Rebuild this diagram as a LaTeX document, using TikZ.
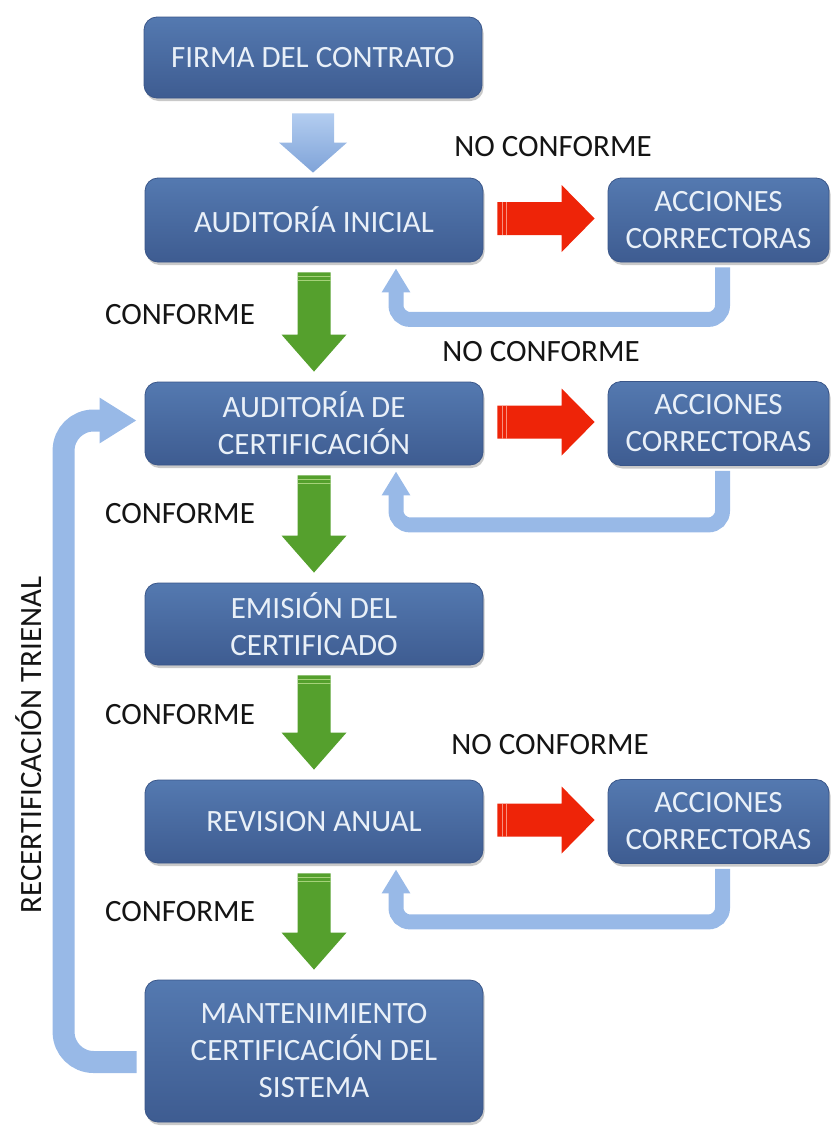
\documentclass[tikz,border=0pt]{standalone}
\usepackage{fontspec}
\setmainfont{Carlito}
\usetikzlibrary{calc,shadows,arrows.meta}

\definecolor{boxtop}{HTML}{5479B0}
\definecolor{boxbot}{HTML}{3E5C91}
\definecolor{boxline}{HTML}{3A5689}
\definecolor{boxtext}{HTML}{E9F0F8}
\definecolor{loopblue}{HTML}{98B9E7}
\definecolor{loopdark}{HTML}{7FA3D8}
\definecolor{looplight}{HTML}{B3CDF0}
\definecolor{okgreen}{HTML}{55A02D}
\definecolor{okstripe}{HTML}{A6D27A}
\definecolor{ncred}{HTML}{EE2408}
\definecolor{ncstripe}{HTML}{F7907E}

% block arrow pointing down: start, tip, shaft half width, head half width, head length, options
\newcommand\blockdown[6]{%
  \path[#6] let \p1=(#1), \p2=(#2) in
    (\x1-#3,\y1) -- (\x1+#3,\y1) -- (\x1+#3,\y2+#5) -- (\x1+#4,\y2+#5) -- (\x1,\y2)
    -- (\x1-#4,\y2+#5) -- (\x1-#3,\y2+#5) -- cycle;}
% block arrow pointing right
\newcommand\blockright[6]{%
  \path[#6] let \p1=(#1), \p2=(#2) in
    (\x1,\y1+#3) -- (\x2-#5,\y1+#3) -- (\x2-#5,\y1+#4) -- (\x2,\y1) -- (\x2-#5,\y1-#4)
    -- (\x2-#5,\y1-#3) -- (\x1,\y1-#3) -- cycle;}

\tikzset{
  stage/.style={rounded corners=13pt, top color=boxtop, bottom color=boxbot,
    draw=boxline, line width=0.8pt, text=boxtext,
    font=\fontsize{31}{37}\selectfont, align=center, minimum width=338pt, inner sep=0pt,
    drop shadow={shadow xshift=1.5pt, shadow yshift=-3pt, opacity=0.3, fill=black!70}},
  fix/.style={stage, minimum width=221pt, minimum height=84pt},
  lbl/.style={font=\fontsize{31}{37}\selectfont, text=black!92, inner sep=0pt},
  backline/.style={draw=loopblue, line width=15pt, rounded corners=14pt,
    -{Triangle[width=27pt,length=24pt]}},
  bigloop/.style={draw=loopblue, line width=22pt, rounded corners=30pt,
    -{Triangle[width=43pt,length=37pt]}},
  greenfill/.style={fill=okgreen},
  redfill/.style={fill=ncred},
  bluefill/.style={top color=looplight, bottom color=loopdark},
}

\begin{document}
\begin{tikzpicture}[x=1pt,y=-1pt]
\path[use as bounding box] (0,0) rectangle (831,1127);

% main stages
\node[stage, minimum height=81pt] (firma) at (313,57.5) {FIRMA DEL CONTRATO};
\node[stage, minimum height=84pt] (inicial) at (314,220) {AUDITORÍA INICIAL};
\node[stage, minimum height=83pt] (certif) at (314,423.5) {AUDITORÍA DE\\CERTIFICACIÓN};
\node[stage, minimum height=82pt] (emision) at (314,624) {EMISIÓN DEL\\CERTIFICADO};
\node[stage, minimum height=83pt] (revision) at (314,821.5) {REVISION ANUAL};
\node[stage, minimum height=142pt] (mant) at (314,1051) {MANTENIMIENTO\\CERTIFICACIÓN DEL\\SISTEMA};

% corrective actions
\node[fix] (acc1) at (718.5,220) {ACCIONES\\CORRECTORAS};
\node[fix] (acc2) at (718.5,423.5) {ACCIONES\\CORRECTORAS};
\node[fix] (acc3) at (718.5,821.5) {ACCIONES\\CORRECTORAS};

% first step arrow
\coordinate (a0s) at ($(firma.south)+(0,15)$);
\coordinate (a0e) at ($(inicial.north)+(0,-5)$);
\blockdown{a0s}{a0e}{21pt}{34pt}{30pt}{bluefill}

% conforming steps (green)
\foreach \src/\dst/\k in {inicial/certif/1, certif/emision/2, emision/revision/3, revision/mant/4}{
  \coordinate (gs\k) at ($(\src.south)+(0,10)$);
  \coordinate (ge\k) at ($(\dst.north)+(0,-10)$);
  \blockdown{gs\k}{ge\k}{16.5pt}{32.5pt}{37pt}{greenfill}
  \draw[okstripe, line width=1.6pt] ($(gs\k)+(-16.5,4)$) -- ($(gs\k)+(16.5,4)$);
  \draw[okstripe, line width=1.2pt] ($(gs\k)+(-16.5,8)$) -- ($(gs\k)+(16.5,8)$);
}

% non-conforming steps (red)
\foreach \src/\dst/\k in {inicial/acc1/1, certif/acc2/2, revision/acc3/3}{
  \coordinate (rs\k) at ($(\src.east)+(14,-1.5)$);
  \coordinate (re\k) at ($(\dst.west)+(-13,-1.5)$);
  \blockright{rs\k}{re\k}{16.5pt}{33.5pt}{33pt}{redfill}
  \draw[ncstripe, line width=1.6pt] ($(rs\k)+(5,-16.5)$) -- ($(rs\k)+(5,16.5)$);
  \draw[ncstripe, line width=1.2pt] ($(rs\k)+(9,-16.5)$) -- ($(rs\k)+(9,16.5)$);
}

% return from corrective actions
\draw[backline] ($(acc1.south)+(4,5)$) -- ++(0,52) -| ($(inicial.south)+(82,6)$);
\draw[backline] ($(acc2.south)+(4,5)$) -- ++(0,54) -| ($(certif.south)+(82,6)$);
\draw[backline] ($(acc3.south)+(4,5)$) -- ++(0,53) -| ($(revision.south)+(82,6)$);

% triennial recertification loop
\coordinate (loopend) at ($(certif.west)+(-8,-3)$);
\draw[bigloop] ($(mant.west)+(-8,11)$) -| ($(loopend)+(-73,0)$) -- (loopend);

% labels
\node[lbl] (nc1) at (553,147) {NO CONFORME};
\node[lbl] (nc2) at (541,352) {NO CONFORME};
\node[lbl] (nc3) at (550,745) {NO CONFORME};
\node[lbl] (c1) at (180,315) {CONFORME};
\node[lbl] (c2) at (180,514) {CONFORME};
\node[lbl] (c3) at (180,715) {CONFORME};
\node[lbl] (c4) at (180,912) {CONFORME};
\node[lbl, rotate=90] (recert) at (29,745) {RECERTIFICACIÓN TRIENAL};
\end{tikzpicture}
\end{document}
